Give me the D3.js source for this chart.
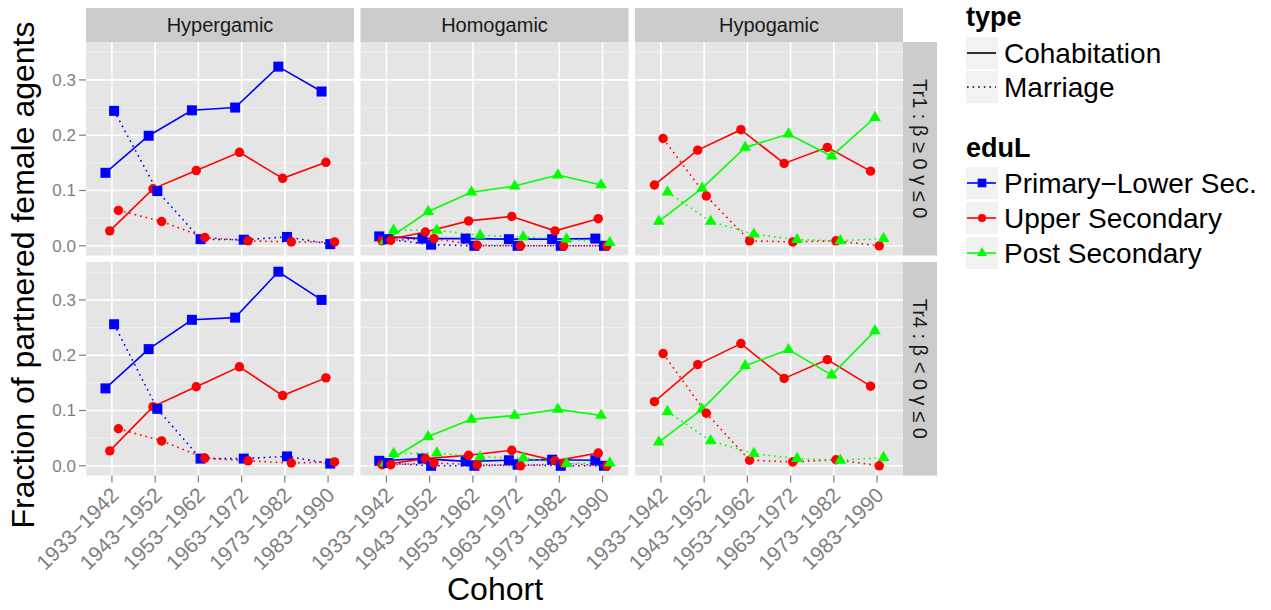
<!DOCTYPE html>
<html><head><meta charset="utf-8">
<script src="https://cdn.jsdelivr.net/npm/d3@7"></script>
<style>body{margin:0;background:#fff}svg{display:block;font-family:"Liberation Sans",Arial,sans-serif}</style>
</head><body><svg id="c" width="1271" height="610"></svg>
<script>
// ---- categories ----
const cohorts = ["1933\u22121942","1943\u22121952","1953\u22121962","1963\u22121972","1973\u22121982","1983\u22121990"];
const gamyTypes = ["Hypergamic","Homogamic","Hypogamic"];
const treatments = ["Tr1","Tr4"];
const treatmentLabels = ["Tr1 : \u03b2 \u2265 0 \u03b3 \u2264 0","Tr4 : \u03b2 < 0 \u03b3 \u2264 0"];
const unionTypes = ["Cohabitation","Marriage"];
const eduLevels = ["Primary\u2212Lower Sec.","Upper Secondary","Post Secondary"];
const yTicks = [0.0,0.1,0.2,0.3];
const yTickLabels = ["0.0","0.1","0.2","0.3"];

// ---- series values (Tr1) ----
const tr1HyperCohabPrimary = [0.132,0.199,0.245,0.250,0.324,0.279];
const tr1HyperCohabUpper   = [0.027,0.103,0.136,0.169,0.122,0.151];
const tr1HyperMarrPrimary  = [0.244,0.099,0.012,0.011,0.016,0.003];
const tr1HyperMarrUpper    = [0.064,0.044,0.015,0.009,0.007,0.007];
const tr1HomoCohabPrimary  = [0.017,0.013,0.013,0.012,0.012,0.013];
const tr1HomoCohabUpper    = [0.009,0.025,0.045,0.053,0.027,0.049];
const tr1HomoCohabPost     = [0.009,0.062,0.097,0.108,0.128,0.110];
const tr1HomoMarrPrimary   = [0.012,0.002,0.000,0.000,0.000,0.000];
const tr1HomoMarrUpper     = [0.010,0.013,0.001,0.000,0.000,0.000];
const tr1HomoMarrPost      = [0.028,0.028,0.019,0.016,0.012,0.006];
const tr1HypoCohabUpper    = [0.110,0.173,0.210,0.149,0.178,0.135];
const tr1HypoCohabPost     = [0.044,0.104,0.178,0.202,0.162,0.232];
const tr1HypoMarrUpper     = [0.194,0.090,0.009,0.007,0.009,0.000];
const tr1HypoMarrPost      = [0.097,0.044,0.021,0.011,0.009,0.013];
// ---- series values (Tr4) ----
const tr4HyperCohabPrimary = [0.140,0.211,0.264,0.268,0.351,0.300];
const tr4HyperCohabUpper   = [0.027,0.107,0.143,0.179,0.127,0.159];
const tr4HyperMarrPrimary  = [0.256,0.103,0.013,0.013,0.017,0.004];
const tr4HyperMarrUpper    = [0.067,0.045,0.014,0.009,0.005,0.007];
const tr4HomoCohabPrimary  = [0.009,0.013,0.008,0.010,0.011,0.010];
const tr4HomoCohabUpper    = [0.002,0.013,0.019,0.028,0.009,0.023];
const tr4HomoCohabPost     = [0.005,0.053,0.084,0.091,0.102,0.091];
const tr4HomoMarrPrimary   = [0.005,0.000,0.000,0.002,0.000,0.000];
const tr4HomoMarrUpper     = [0.002,0.005,0.002,0.000,0.004,0.000];
const tr4HomoMarrPost      = [0.022,0.023,0.016,0.014,0.004,0.005];
const tr4HypoCohabUpper    = [0.116,0.183,0.221,0.158,0.192,0.144];
const tr4HypoCohabPost     = [0.043,0.102,0.181,0.210,0.164,0.244];
const tr4HypoMarrUpper     = [0.203,0.095,0.010,0.007,0.011,0.000];
const tr4HypoMarrPost      = [0.098,0.045,0.022,0.013,0.010,0.015];

// series table: [treatment, gamy, unionType, edu, values]
const series = [
 ["Tr1","Hypergamic","Cohabitation",0,tr1HyperCohabPrimary],
 ["Tr1","Hypergamic","Cohabitation",1,tr1HyperCohabUpper],
 ["Tr1","Hypergamic","Marriage",0,tr1HyperMarrPrimary],
 ["Tr1","Hypergamic","Marriage",1,tr1HyperMarrUpper],
 ["Tr1","Homogamic","Cohabitation",0,tr1HomoCohabPrimary],
 ["Tr1","Homogamic","Cohabitation",1,tr1HomoCohabUpper],
 ["Tr1","Homogamic","Cohabitation",2,tr1HomoCohabPost],
 ["Tr1","Homogamic","Marriage",0,tr1HomoMarrPrimary],
 ["Tr1","Homogamic","Marriage",1,tr1HomoMarrUpper],
 ["Tr1","Homogamic","Marriage",2,tr1HomoMarrPost],
 ["Tr1","Hypogamic","Cohabitation",1,tr1HypoCohabUpper],
 ["Tr1","Hypogamic","Cohabitation",2,tr1HypoCohabPost],
 ["Tr1","Hypogamic","Marriage",1,tr1HypoMarrUpper],
 ["Tr1","Hypogamic","Marriage",2,tr1HypoMarrPost],
 ["Tr4","Hypergamic","Cohabitation",0,tr4HyperCohabPrimary],
 ["Tr4","Hypergamic","Cohabitation",1,tr4HyperCohabUpper],
 ["Tr4","Hypergamic","Marriage",0,tr4HyperMarrPrimary],
 ["Tr4","Hypergamic","Marriage",1,tr4HyperMarrUpper],
 ["Tr4","Homogamic","Cohabitation",0,tr4HomoCohabPrimary],
 ["Tr4","Homogamic","Cohabitation",1,tr4HomoCohabUpper],
 ["Tr4","Homogamic","Cohabitation",2,tr4HomoCohabPost],
 ["Tr4","Homogamic","Marriage",0,tr4HomoMarrPrimary],
 ["Tr4","Homogamic","Marriage",1,tr4HomoMarrUpper],
 ["Tr4","Homogamic","Marriage",2,tr4HomoMarrPost],
 ["Tr4","Hypogamic","Cohabitation",1,tr4HypoCohabUpper],
 ["Tr4","Hypogamic","Cohabitation",2,tr4HypoCohabPost],
 ["Tr4","Hypogamic","Marriage",1,tr4HypoMarrUpper],
 ["Tr4","Hypogamic","Marriage",2,tr4HypoMarrPost]
].map(d=>({tr:d[0],gamy:d[1],type:d[2],edu:d[3],values:d[4]}));

// ---- styling ----
const eduColors = ["#0000FF","#FF0000","#00FF00"];
const eduShapes = [d3.symbolSquare,d3.symbolCircle,d3.symbolTriangle];
const eduSizes = [100,70,60];
const dash = {Cohabitation:null, Marriage:"1.6 4"};

const svg = d3.select("#c");
svg.append("rect").attr("width",1271).attr("height",610).attr("fill","#fff");

const panelX0 = 86, panelW = 268, panelGap = 6.5;
const stripTop = 8, stripH = 34;
const rowTops = [42, 262], panelH = 213.5;
const rStripW = 34;

// y scale with ggplot 5% expansion
const allVals = series.flatMap(s=>s.values);
const yMin = d3.min(allVals), yMax = d3.max(allVals);
const pad = (yMax-yMin)*0.05;
const yDomain = [yMin-pad, yMax+pad];

const x = d3.scalePoint().domain(cohorts).range([0,panelW]).padding(0.6);
const dodgeW = 0.4*x.step();

const grey50 = "#7F7F7F";

gamyTypes.forEach((g,ci)=>{
  const px = panelX0 + ci*(panelW+panelGap);
  // top strip
  svg.append("rect").attr("x",px).attr("y",stripTop).attr("width",panelW).attr("height",stripH).attr("fill","#CCCCCC");
  svg.append("text").attr("x",px+panelW/2).attr("y",stripTop+stripH/2+7).attr("text-anchor","middle")
    .attr("font-size",20).attr("fill","#1A1A1A").text(g);

  treatments.forEach((t,ri)=>{
    const py = rowTops[ri];
    const y = d3.scaleLinear().domain(yDomain).range([panelH,0]);
    const gp = svg.append("g").attr("transform",`translate(${px},${py})`);
    gp.append("rect").attr("width",panelW).attr("height",panelH).attr("fill","#E5E5E5");
    // minor grid
    const minor = [0.05,0.15,0.25,0.35].filter(v=>v>=yDomain[0]&&v<=yDomain[1]);
    gp.selectAll(".mn").data(minor).enter().append("line")
      .attr("x1",0).attr("x2",panelW).attr("y1",d=>y(d)).attr("y2",d=>y(d))
      .attr("stroke","#F2F2F2").attr("stroke-width",0.8);
    gp.selectAll(".mj").data(yTicks).enter().append("line")
      .attr("x1",0).attr("x2",panelW).attr("y1",d=>y(d)).attr("y2",d=>y(d))
      .attr("stroke","#fff").attr("stroke-width",1.6);
    gp.selectAll(".mv").data(cohorts).enter().append("line")
      .attr("y1",0).attr("y2",panelH).attr("x1",d=>x(d)).attr("x2",d=>x(d))
      .attr("stroke","#fff").attr("stroke-width",1.6);

    const ss = series.filter(s=>s.tr===t && s.gamy===g);
    const groups = ss.slice().sort((a,b)=>(unionTypes.indexOf(a.type)-unionTypes.indexOf(b.type))||(a.edu-b.edu));
    const n = groups.length;
    const off = s => (groups.indexOf(s)-(n-1)/2)*dodgeW/n;
    const line = s => d3.line().x((v,i)=>x(cohorts[i])+off(s)).y(v=>y(v));
    groups.forEach(s=>{
      gp.append("path").attr("d",line(s)(s.values)).attr("fill","none")
        .attr("stroke",eduColors[s.edu]).attr("stroke-width",1.6)
        .attr("stroke-dasharray",dash[s.type]);
    });
    groups.forEach(s=>{
      gp.selectAll(null).data(s.values).enter().append("path")
        .attr("d",d3.symbol().type(eduShapes[s.edu]).size(eduSizes[s.edu]))
        .attr("transform",(v,i)=>`translate(${x(cohorts[i])+off(s)},${y(v)})`)
        .attr("fill",eduColors[s.edu]);
    });

    // y axis on first column
    if(ci===0){
      yTicks.forEach((v,k)=>{
        svg.append("line").attr("x1",px-7).attr("x2",px).attr("y1",py+y(v)).attr("y2",py+y(v))
          .attr("stroke",grey50).attr("stroke-width",1.2);
        svg.append("text").attr("x",px-10).attr("y",py+y(v)+6).attr("text-anchor","end")
          .attr("font-size",17).attr("fill",grey50).text(yTickLabels[k]);
      });
    }
    // right strip
    if(ci===gamyTypes.length-1){
      const sx = px+panelW;
      svg.append("rect").attr("x",sx).attr("y",py).attr("width",rStripW).attr("height",panelH).attr("fill","#CCCCCC");
      svg.append("text").attr("transform",`translate(${sx+rStripW/2-7},${py+panelH/2}) rotate(90)`)
        .attr("text-anchor","middle").attr("font-size",20).attr("fill","#1A1A1A").text(treatmentLabels[ri]);
    }
    // x axis on bottom row
    if(ri===treatments.length-1){
      cohorts.forEach(c=>{
        const tx = px+x(c), ty = py+panelH;
        svg.append("line").attr("x1",tx).attr("x2",tx).attr("y1",ty).attr("y2",ty+7)
          .attr("stroke",grey50).attr("stroke-width",1.2);
        svg.append("text").attr("transform",`translate(${tx+8},${ty+21}) rotate(-45)`)
          .attr("text-anchor","end").attr("font-size",21).attr("fill",grey50).text(c);
      });
    }
  });
});

// axis titles
svg.append("text").attr("transform","translate(34,275) rotate(-90)").attr("text-anchor","middle")
  .attr("font-size",32).attr("fill","#000").text("Fraction of partnered female agents");
svg.append("text").attr("x",495).attr("y",600).attr("text-anchor","middle")
  .attr("font-size",32).attr("fill","#000").text("Cohort");

// legend
const lx = 966, keyS = 32;
svg.append("text").attr("x",lx).attr("y",26).attr("font-size",27).attr("font-weight","bold").text("type");
const typeKeyY = [37,71];
unionTypes.forEach((u,i)=>{
  const ky = typeKeyY[i];
  svg.append("rect").attr("x",lx).attr("y",ky).attr("width",keyS).attr("height",keyS).attr("fill","#F2F2F2");
  svg.append("line").attr("x1",lx+1).attr("x2",lx+keyS-2).attr("y1",ky+keyS/2).attr("y2",ky+keyS/2)
    .attr("stroke","#000").attr("stroke-width",1.6).attr("stroke-dasharray",dash[u]);
  svg.append("text").attr("x",lx+38).attr("y",ky+keyS/2+10).attr("font-size",28).text(u);
});
svg.append("text").attr("x",lx).attr("y",157).attr("font-size",27).attr("font-weight","bold").text("eduL");
const eduKeyY = [167,202,237];
eduLevels.forEach((e,i)=>{
  const ky = eduKeyY[i];
  svg.append("rect").attr("x",lx).attr("y",ky).attr("width",keyS).attr("height",keyS).attr("fill","#F2F2F2");
  svg.append("line").attr("x1",lx+1).attr("x2",lx+keyS-2).attr("y1",ky+keyS/2).attr("y2",ky+keyS/2)
    .attr("stroke",eduColors[i]).attr("stroke-width",1.6);
  svg.append("path").attr("d",d3.symbol().type(eduShapes[i]).size(eduSizes[i]*0.75)())
    .attr("transform",`translate(${lx+keyS/2},${ky+keyS/2})`).attr("fill",eduColors[i]);
  svg.append("text").attr("x",lx+38).attr("y",ky+keyS/2+10).attr("font-size",28).text(e);
});
</script></body></html>
